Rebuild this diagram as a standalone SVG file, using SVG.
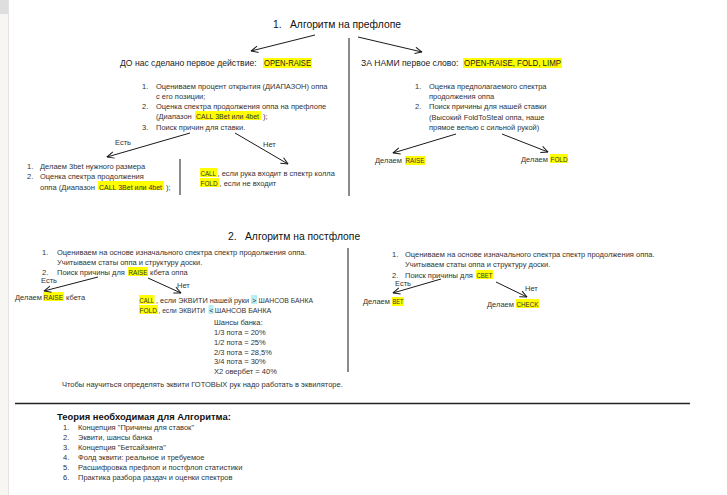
<svg xmlns="http://www.w3.org/2000/svg" width="727" height="495" viewBox="0 0 727 495">
<style>
text{font-family:"Liberation Sans",Arial,sans-serif;fill:#333;font-size:7.5px}
.h{font-size:8.6px;fill:#222}
.ti{font-size:10.3px;fill:#111}
.b{font-size:9.4px;font-weight:bold;fill:#111}
.hl{fill:#ffff00}
.cy{fill:#b8eef5}
.c line{stroke:#1a1a1a;stroke-width:1;marker-end:url(#ah)}
.v{stroke:#8a8a8a;stroke-width:2}
</style>
<defs>
<marker id="ah" viewBox="0 0 8 8" refX="7.5" refY="4" markerWidth="8" markerHeight="8" markerUnits="userSpaceOnUse" orient="auto">
<path d="M0.5,0.8 L7.5,4 L0.5,7.2" fill="none" stroke="#1a1a1a" stroke-width="1"/>
</marker>
</defs>
<rect width="727" height="495" fill="#fff"/>
<rect x="0" y="0" width="8" height="495" fill="#f7f6f3"/>
<rect x="0" y="0" width="8" height="14" fill="#dedede"/>
<line x1="8.5" y1="0" x2="8.5" y2="495" stroke="#e4e4e4" stroke-width="1"/>

<g id="dividers">
<line class="v" x1="349" y1="38" x2="349" y2="196"/>
<line class="v" x1="180" y1="159" x2="180" y2="195"/>
<line class="v" x1="348" y1="248" x2="348" y2="372"/>
<line x1="15" y1="403.5" x2="690" y2="403.5" stroke="#222" stroke-width="1.5"/>
</g>

<g id="title1"><text class="ti" x="273" y="28">1.</text><text class="ti" x="290" y="28">Алгоритм на префлопе</text></g>

<g id="before">
<rect class="hl" x="263" y="58" width="49" height="10"/>
<text class="h" x="120" y="66">ДО нас сделано первое действие: </text>
<text class="h" x="264" y="66" textLength="47" lengthAdjust="spacingAndGlyphs">OPEN-RAISE</text>
</g>
<g id="after">
<rect class="hl" x="463" y="58" width="99" height="10"/>
<text class="h" x="361" y="66">ЗА НАМИ первое слово: </text>
<text class="h" x="464" y="66" textLength="97" lengthAdjust="spacingAndGlyphs">OPEN-RAISE, FOLD, LIMP</text>
</g>

<g id="list-left-pre">
<rect class="hl" x="195" y="111" width="66" height="9"/>
<text x="142" y="88.5">1.</text><text x="156" y="88.5">Оцениваем процент открытия (ДИАПАЗОН) оппа</text>
<text x="156" y="98.5">с его позиции;</text>
<text x="142" y="109">2.</text><text x="156" y="109">Оценка спектра продолжения оппа на префлопе</text>
<text x="156" y="119">(Диапазон </text><text x="196" y="119" textLength="63" lengthAdjust="spacingAndGlyphs">CALL 3Bet или 4bet</text><text x="263" y="119">);</text>
<text x="142" y="130">3.</text><text x="156" y="130">Поиск причин для ставки.</text>
</g>

<g id="list-right-pre">
<text x="415" y="88.5">1.</text><text x="429" y="88.5">Оценка предполагаемого спектра</text>
<text x="429" y="98.5">продолжения оппа</text>
<text x="415" y="109">2.</text><text x="429" y="109">Поиск причины для нашей ставки</text>
<text x="429" y="119.5">(Высокий FoldToSteal оппа, наше</text>
<text x="429" y="130">прямое велью с сильной рукой)</text>
</g>

<g id="yes-pre">
<rect class="hl" x="98" y="181" width="66" height="9"/>
<text x="27" y="168.5">1.</text><text x="40" y="168.5">Делаем 3bet нужного размера</text>
<text x="27" y="179">2.</text><text x="40" y="179">Оценка спектра продолжения</text>
<text x="40" y="189.5" textLength="55" lengthAdjust="spacingAndGlyphs">оппа (Диапазон</text><text x="99" y="189.5" textLength="63" lengthAdjust="spacingAndGlyphs">CALL 3Bet или 4bet</text><text x="166" y="189.5">);</text>
</g>

<g id="no-pre">
<rect class="hl" x="200" y="168" width="17" height="9"/>
<rect class="hl" x="200" y="178" width="19" height="9"/>
<text x="200.5" y="175.5" textLength="15.5" lengthAdjust="spacingAndGlyphs">CALL</text><text x="217.5" y="175.5">, если рука входит в спектр колла</text>
<text x="200.5" y="185.5" textLength="17" lengthAdjust="spacingAndGlyphs">FOLD</text><text x="219.5" y="185.5">, если не входит</text>
</g>

<g id="raise-pre">
<rect class="hl" x="405" y="156" width="20" height="9"/>
<text x="375" y="163">Делаем </text><text x="405.5" y="163" textLength="19" lengthAdjust="spacingAndGlyphs">RAISE</text>
</g>
<g id="fold-pre">
<rect class="hl" x="550" y="154" width="18" height="9"/>
<text x="521" y="161.5">Делаем </text><text x="550.5" y="161.5" textLength="17" lengthAdjust="spacingAndGlyphs">FOLD</text>
</g>

<g id="title2"><text class="ti" x="228" y="240">2.</text><text class="ti" x="245" y="240">Алгоритм на постфлопе</text></g>

<g id="list-left-post">
<rect class="hl" x="128" y="267" width="20" height="9"/>
<text x="42" y="255">1.</text><text x="57" y="255">Оцениваем на основе изначального спектра спектр продолжения оппа.</text>
<text x="57" y="264.5">Учитываем статы оппа и структуру доски.</text>
<text x="42" y="274.5">2.</text><text x="57" y="274.5">Поиск причины для </text><text x="128.5" y="274.5" textLength="19" lengthAdjust="spacingAndGlyphs">RAISE</text><text x="150" y="274.5">кбета оппа</text>
</g>

<g id="raise-post">
<rect class="hl" x="43" y="292" width="21" height="9"/>
<text x="15" y="299.5">Делаем </text><text x="43.5" y="299.5" textLength="19.5" lengthAdjust="spacingAndGlyphs">RAISE</text><text x="66" y="299.5">кбета</text>
</g>

<g id="no-post">
<rect class="hl" x="139" y="295" width="15.5" height="9"/>
<rect class="cy" x="251" y="295" width="6" height="9"/>
<rect class="hl" x="139" y="305" width="19" height="9"/>
<rect class="cy" x="208.5" y="305" width="5" height="9"/>
<text x="139.5" y="302.5" textLength="14.5" lengthAdjust="spacingAndGlyphs">CALL</text>
<text x="156" y="302.5" textLength="93" lengthAdjust="spacingAndGlyphs">, если ЭКВИТИ нашей руки</text>
<text x="252" y="302.5">&gt;</text>
<text x="258.5" y="302.5" textLength="54.5" lengthAdjust="spacingAndGlyphs">ШАНСОВ БАНКА</text>
<text x="139.5" y="312.5" textLength="17.5" lengthAdjust="spacingAndGlyphs">FOLD</text>
<text x="158.5" y="312.5" font-size="7" textLength="46.5" lengthAdjust="spacingAndGlyphs">, если ЭКВИТИ</text>
<text x="209.2" y="312.5">&lt;</text>
<text x="214.8" y="312.5" textLength="56.5" lengthAdjust="spacingAndGlyphs">ШАНСОВ БАНКА</text>
<text x="214" y="324.5">Шансы банка:</text>
<text x="214" y="334.5">1/3 пота = 20%</text>
<text x="214" y="344.5">1/2 пота = 25%</text>
<text x="214" y="354.5">2/3 пота = 28,5%</text>
<text x="214" y="364">3/4 пота = 30%</text>
<text x="214" y="374">X2 овербет = 40%</text>
</g>

<g id="note"><text x="62" y="387">Чтобы научиться определять эквити ГОТОВЫХ рук надо работать в эквиляторе.</text></g>

<g id="list-right-post">
<rect class="hl" x="476" y="270" width="17" height="9"/>
<text x="392" y="256.5">1.</text><text x="405" y="256.5">Оцениваем на основе изначального спектра спектр продолжения оппа.</text>
<text x="405" y="266.5">Учитываем статы оппа и структуру доски.</text>
<text x="392" y="277.5">2.</text><text x="405" y="277.5">Поиск причины для </text><text x="476.5" y="277.5" textLength="16" lengthAdjust="spacingAndGlyphs">CBET</text>
</g>
<g id="bet-post">
<rect class="hl" x="392" y="297" width="12" height="9"/>
<text x="363" y="304">Делаем </text><text x="392.5" y="304" textLength="11" lengthAdjust="spacingAndGlyphs">BET</text>
</g>
<g id="check-post">
<rect class="hl" x="516" y="299" width="23" height="9"/>
<text x="487" y="306.5">Делаем </text><text x="516.5" y="306.5" textLength="22" lengthAdjust="spacingAndGlyphs">CHECK</text>
</g>

<g id="theory">
<text class="b" x="57" y="419.5">Теория необходимая для Алгоритма:</text>
<text x="63" y="430">1.</text><text x="78" y="430">Концепция "Причины для ставок"</text>
<text x="63" y="440">2.</text><text x="78" y="440">Эквити, шансы банка</text>
<text x="63" y="450">3.</text><text x="78" y="450">Концепция "Бетсайзинга"</text>
<text x="63" y="460">4.</text><text x="78" y="460">Фолд эквити: реальное и требуемое</text>
<text x="63" y="470">5.</text><text x="78" y="470">Расшифровка префлоп и постфлоп статистики</text>
<text x="63" y="480">6.</text><text x="78" y="480">Практика разбора раздач и оценки спектров</text>
</g>

<g id="edge-labels">
<text x="115" y="144.5">Есть</text>
<text x="263" y="147">Нет</text>
<text x="41" y="283">Есть</text>
<text x="177" y="288">Нет</text>
<text x="395" y="285.5">Есть</text>
<text x="525" y="290.5">Нет</text>
</g>

<g id="connectors" class="c">
<line x1="315" y1="35" x2="251" y2="51"/>
<line x1="358" y1="37" x2="422" y2="52"/>
<line x1="190" y1="133" x2="107" y2="157"/>
<line x1="235" y1="133" x2="288" y2="164"/>
<line x1="456" y1="134" x2="393" y2="153"/>
<line x1="502" y1="134" x2="548" y2="152"/>
<line x1="98" y1="277" x2="44" y2="291"/>
<line x1="148" y1="278" x2="181" y2="293"/>
<line x1="441" y1="279" x2="393" y2="293"/>
<line x1="496" y1="282" x2="527" y2="297"/>
</g>
</svg>
